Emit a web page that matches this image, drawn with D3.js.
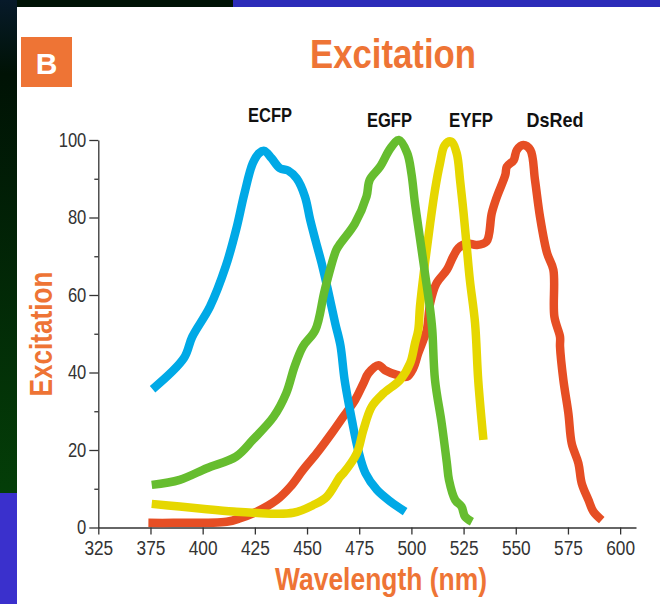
<!DOCTYPE html>
<html>
<head>
<meta charset="utf-8">
<script src="https://cdn.jsdelivr.net/npm/d3@7"></script>
<style>
  body { margin: 0; background: #fff; }
  svg { display: block; }
  .axis text { font-family: "Liberation Sans", Arial, sans-serif; font-size: 20px; fill: #333; }
  .axis path, .axis line { stroke: #333; stroke-width: 1.3; }
  .narrow { font-family: "Liberation Sans", Arial, sans-serif; font-weight: bold; }
</style>
</head>
<body>
<svg width="660" height="604"></svg>
<script>
// wavelength (nm) / excitation (%)
var ecfpNm  = [376, 391, 395, 403.5, 411, 416, 420, 424, 427, 429.5, 433, 437, 441, 445, 449, 451.5, 454, 457, 460, 463.5, 466, 468, 471.5, 474.5, 478, 483.5, 490, 497];
var ecfpVal = [35.7, 43.7, 49.2, 57, 67.3, 76.8, 86.2, 94, 96.6, 97.2, 95.3, 92.7, 92.1, 90.1, 85.4, 79.4, 74.2, 68.2, 61.3, 52.7, 47, 38.1, 27.7, 20, 14, 9.7, 6.7, 4.1];

var egfpNm  = [375.6, 389, 402, 416, 424, 434, 440, 444, 448, 454, 458.5, 464, 466, 473, 478.5, 480, 485, 490, 494, 498, 500, 501.7, 504, 506.5, 509, 510, 511.3, 514.5, 517, 518, 521, 524, 525.7, 529];
var egfpVal = [11, 12.3, 15.3, 18.3, 22.6, 28.6, 34.6, 41.5, 46.7, 51, 61.3, 71.6, 73.3, 78.5, 85.4, 89.7, 93.1, 97.9, 100, 96.6, 91.4, 83.7, 75, 65.6, 56.1, 51, 38.1, 26.9, 16.6, 12.3, 7.1, 5.4, 2.8, 1.5];

var eyfpNm  = [375.6, 389, 402, 414.7, 424, 443.4, 453, 459.4, 465.8, 467.4, 473.8, 477, 481, 486.6, 494.6, 499.4, 501.7, 503.3, 504.1, 506.5, 509, 511.3, 513.7, 516, 519, 521.7, 523.3, 525, 526.5, 528, 530.5, 532, 534.5];
var eyfpVal = [6.1, 5.4, 4.7, 4.1, 3.8, 3.8, 5.8, 7.9, 13.1, 14, 19.1, 25.2, 31.2, 34.6, 38.1, 42.4, 47.5, 51, 57, 68.2, 78.5, 87.1, 94, 98.7, 99.6, 96.6, 89.7, 81.1, 72.5, 63.9, 52.7, 38.1, 22.6];

var dsredNm  = [374, 386, 411.5, 418, 426, 435.5, 442, 448, 454.6, 461.8, 467.4, 473, 477, 479.4, 484.2, 487.4, 493, 497.8, 500.9, 503.3, 505.7, 507.4, 509, 512, 517, 520, 522.5, 526.5, 531.3, 536, 538.5, 541, 545, 545.7, 549, 550.5, 553.6, 557, 559.2, 561.6, 565, 568, 568.5, 571.2, 571.2, 572.8, 575.2, 576.8, 580, 581.6, 584.8, 587.2, 591.2];
var dsredVal = [1.2, 1.2, 1.5, 2.4, 4.1, 7.1, 10.5, 14.8, 19.1, 24.3, 28.6, 32.9, 37.2, 39.8, 41.9, 40.6, 39.4, 38.9, 41.1, 45, 48.4, 51, 57.9, 63, 66.5, 69.9, 72.1, 73.3, 72.9, 73.8, 81.1, 85.4, 91, 93.1, 94.8, 97.4, 98.7, 97.4, 89.7, 80.2, 70.8, 66.5, 54.4, 49.2, 46.7, 38.1, 29.5, 21.7, 16.6, 11.4, 7.1, 4.1, 1.9];

var seriesNames  = ["ECFP", "EGFP", "EYFP", "DsRed"];
var seriesColors = ["#00a9e6", "#66bd2f", "#e6d700", "#e64e24"];
// label anchor (nm, value)
var labelNm  = [432.3, 489.5, 528.6, 568.8];
var labelVal = [104.6, 103.4, 103.4, 103.4];

var xTickValues = [350, 375, 400, 425, 450, 475, 500, 525, 550, 575, 600];
var xTickLabels = ["325", "375", "400", "425", "450", "475", "500", "525", "550", "575", "600"];
var yMajor = [0, 20, 40, 60, 80, 100];
var yMinor = [10, 30, 50, 70, 90];

var svg = d3.select("svg");
var orange = "#ee7435";

// squeeze text to the narrow face of the original
function squeeze(sel, w) {
  sel.attr("textLength", w).attr("lengthAdjust", "spacingAndGlyphs");
}

// frame around the white panel
var defs = svg.append("defs");
var grad = defs.append("linearGradient").attr("id", "leftg").attr("x1", 0).attr("y1", 0).attr("x2", 0).attr("y2", 1);
grad.append("stop").attr("offset", "0%").attr("stop-color", "#071a2a");
grad.append("stop").attr("offset", "15%").attr("stop-color", "#001205");
grad.append("stop").attr("offset", "100%").attr("stop-color", "#043e08");

svg.append("rect").attr("x", 0).attr("y", 0).attr("width", 233).attr("height", 7).attr("fill", "#001305");
svg.append("rect").attr("x", 233).attr("y", 0).attr("width", 427).attr("height", 7).attr("fill", "#2c2cb9");
svg.append("rect").attr("x", 0).attr("y", 0).attr("width", 17).attr("height", 493).attr("fill", "url(#leftg)");
svg.append("rect").attr("x", 0).attr("y", 493).attr("width", 17).attr("height", 111).attr("fill", "#3a30cc");

var x = d3.scaleLinear().domain([350, 607.6]).range([98.3, 636]);
var y = d3.scaleLinear().domain([0, 100]).range([527.5, 140]);

// panel badge + title
svg.append("rect").attr("x", 21).attr("y", 37).attr("width", 51).attr("height", 50).attr("fill", orange);
svg.append("text").attr("x", 46.5).attr("y", 73.5).attr("text-anchor", "middle")
  .attr("class", "narrow").style("font-size", "30px").attr("fill", "#fff").text("B");

svg.append("text").attr("x", 393).attr("y", 68).attr("text-anchor", "middle")
  .attr("class", "narrow").style("font-size", "41px").attr("fill", orange).text("Excitation")
  .call(squeeze, 166);

// axes
svg.append("g").attr("class", "axis")
  .attr("transform", "translate(0,527.5)")
  .call(d3.axisBottom(x).tickValues(xTickValues).tickSize(7).tickSizeOuter(0)
    .tickFormat(function (d, i) { return xTickLabels[i]; }))
  .call(function (g) {
    g.selectAll("text").attr("dy", "0.85em")
      .each(function () { squeeze(d3.select(this), this.textContent.length * 9.6); });
  });

svg.append("g").attr("class", "axis")
  .attr("transform", "translate(98.3,0)")
  .call(d3.axisLeft(y).tickValues(yMajor).tickSize(9).tickSizeOuter(0))
  .call(function (g) {
    g.selectAll("text").attr("x", -12)
      .each(function () { squeeze(d3.select(this), this.textContent.length * 9.2); });
  });

svg.append("g").attr("class", "axis")
  .attr("transform", "translate(98.3,0)")
  .call(d3.axisLeft(y).tickValues(yMinor).tickSize(4).tickFormat(""))
  .call(function (g) { g.select(".domain").remove(); });

svg.append("text").attr("transform", "translate(52,334) rotate(-90)").attr("text-anchor", "middle")
  .attr("class", "narrow").style("font-size", "32px").attr("fill", orange).text("Excitation")
  .call(squeeze, 125);

svg.append("text").attr("x", 381).attr("y", 590).attr("text-anchor", "middle")
  .attr("class", "narrow").style("font-size", "31px").attr("fill", orange).text("Wavelength (nm)")
  .call(squeeze, 212);

// curves
var allNm = [ecfpNm, egfpNm, eyfpNm, dsredNm];
var allVal = [ecfpVal, egfpVal, eyfpVal, dsredVal];

var line = d3.line()
  .x(function (d) { return x(d[0]); })
  .y(function (d) { return y(d[1]); })
  .curve(d3.curveCatmullRom.alpha(0.5));

// drawn so that the overlaps look like the picture
var order = [3, 0, 2, 1];
order.forEach(function (k) {
  var pts = allNm[k].map(function (n, i) { return [n, allVal[k][i]]; });
  svg.append("path")
    .datum(pts)
    .attr("d", line)
    .attr("fill", "none")
    .attr("stroke", seriesColors[k])
    .attr("stroke-width", 8.5)
    .attr("stroke-linejoin", "round")
    .attr("stroke-linecap", "butt");
});

var labelWidths = [44, 45, 44, 57];
seriesNames.forEach(function (name, i) {
  svg.append("text")
    .attr("x", x(labelNm[i])).attr("y", y(labelVal[i]))
    .attr("text-anchor", "middle")
    .attr("class", "narrow").style("font-size", "21px").attr("fill", "#111").text(name)
    .call(squeeze, labelWidths[i]);
});
</script>
</body>
</html>
